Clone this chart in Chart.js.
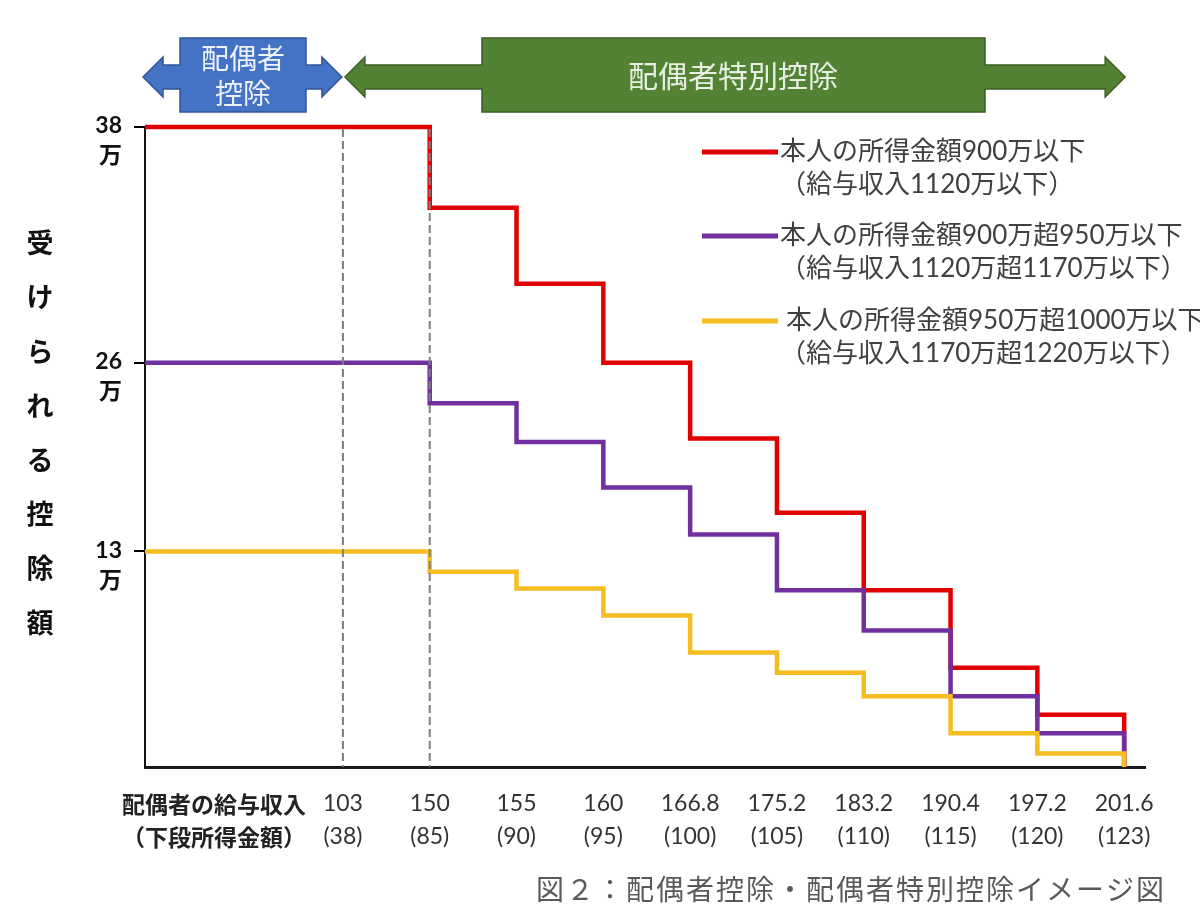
<!DOCTYPE html>
<html>
<head>
<meta charset="utf-8">
<title>配偶者控除・配偶者特別控除イメージ図</title>
<script src="https://cdn.jsdelivr.net/npm/chart.js"></script>
<style>
  body { margin: 0; background: #fff; }
  #wrap { width: 1200px; height: 914px; }
</style>
</head>
<body>
<div id="wrap"><canvas id="chart" width="1200" height="914"></canvas></div>
<script>
// 配偶者の給与収入（万円）と下段の所得金額
const incomes = ['103', '150', '155', '160', '166.8', '175.2', '183.2', '190.4', '197.2', '201.6'];
const incomesLower = ['38', '85', '90', '95', '100', '105', '110', '115', '120', '123'];

// 各区間（その収入から次の収入まで）の控除額、絵から読んだ値（万円）
const red    = [38, 33.2, 28.7, 24.0, 19.5, 15.1, 10.5, 5.9, 3.1, 0];
const purple = [24.0, 21.6, 19.3, 16.6, 13.8, 10.5, 8.1, 4.2, 2.0, 0];
const yellow = [12.8, 11.6, 10.6, 9.0, 6.8, 5.6, 4.2, 2.0, 0.8, 0];

const seriesNames = ['本人の所得金額900万以下', '本人の所得金額900万超950万以下', '本人の所得金額950万超1000万以下'];
const seriesNotes = ['（給与収入1120万以下）', '（給与収入1120万超1170万以下）', '（給与収入1170万超1220万以下）'];

// y軸の目盛り（絵の位置）とその表示
const yTicks = [38, 24.0, 12.8];
const yTickText = ['38', '26', '13'];

const yTitle = '受けられる控除額';
const xTitle = ['配偶者の給与収入', '（下段所得金額）'];
const caption = '図２：配偶者控除・配偶者特別控除イメージ図';

const XMIN = -2.28, XMAX = 9.24;
const CJK = '"Noto Sans CJK JP"';
const MIX = 'Lato, "Noto Sans CJK JP"';

function toPoints(s) {
  return [{ x: XMIN, y: s[0] }].concat(s.map((v, i) => ({ x: i, y: v })));
}

function polygon(ctx, pts, fill, stroke) {
  ctx.beginPath();
  ctx.moveTo(pts[0][0], pts[0][1]);
  for (let i = 1; i < pts.length; i++) ctx.lineTo(pts[i][0], pts[i][1]);
  ctx.closePath();
  ctx.fillStyle = fill;
  ctx.fill();
  ctx.lineWidth = 1.5;
  ctx.strokeStyle = stroke;
  ctx.stroke();
}

// 両矢印（左右の頭・軸・箱）
function arrowShape(tipL, tipR, boxL, boxR) {
  const cy = 77, hT = 57, hB = 97, sT = 65, sB = 89, bT = 38, bB = 112;
  return [
    [tipL, cy], [tipL + 20, hT], [tipL + 20, sT],
    [boxL, sT], [boxL, bT], [boxR, bT], [boxR, sT],
    [tipR - 20, sT], [tipR - 20, hT], [tipR, cy], [tipR - 20, hB], [tipR - 20, sB],
    [boxR, sB], [boxR, bB], [boxL, bB], [boxL, sB], [tipL + 20, sB], [tipL + 20, hB]
  ];
}

const decor = {
  id: 'decor',
  afterDatasetsDraw(chart) {
    const { ctx, chartArea, scales: { x, y } } = chart;
    ctx.save();
    ctx.strokeStyle = '#7f7f7f';
    ctx.lineWidth = 2;
    ctx.setLineDash([8, 4]);
    [0, 1].forEach(i => {
      const px = x.getPixelForValue(i);
      ctx.beginPath();
      ctx.moveTo(px, y.getPixelForValue(red[0]) + 2);
      ctx.lineTo(px, chartArea.bottom);
      ctx.stroke();
    });
    ctx.restore();
  },
  afterDraw(chart) {
    const { ctx, chartArea, scales: { x } } = chart;
    ctx.save();

    // 上部の矢印
    const p0 = x.getPixelForValue(0);
    const pN = x.getPixelForValue(incomes.length - 1);
    polygon(ctx, arrowShape(chartArea.left - 2, p0 - 1, 180, 306), '#4472c4', '#2f5597');
    polygon(ctx, arrowShape(p0 + 2, pN + 1, 482, 985), '#548235', '#3b5e24');

    ctx.textAlign = 'center';
    ctx.textBaseline = 'middle';
    ctx.fillStyle = '#eef2fa';
    ctx.font = '28px ' + CJK;
    ctx.fillText('配偶者', 243, 58);
    ctx.fillText('控除', 243, 93);
    ctx.fillStyle = '#e8efe2';
    ctx.font = '30px ' + CJK;
    ctx.fillText('配偶者特別控除', 733, 76);

    // y軸タイトル（縦書き）
    ctx.fillStyle = '#111';
    ctx.font = 'bold 27px ' + CJK;
    [...yTitle].forEach((c, i) => ctx.fillText(c, 40, 243 + i * 54.2));

    // x軸タイトル
    ctx.fillStyle = '#222';
    ctx.font = 'bold 23px ' + CJK;
    ctx.fillText(xTitle[0], 214, 804);
    ctx.fillText(xTitle[1], 214, 837);

    // 凡例
    const ly = [152, 236, 321];
    chart.data.datasets.slice().sort((a, b) => a.legendRank - b.legendRank).forEach((ds, i) => {
      ctx.strokeStyle = ds.borderColor;
      ctx.lineWidth = 5;
      ctx.beginPath();
      ctx.moveTo(702, ly[i]);
      ctx.lineTo(778, ly[i]);
      ctx.stroke();
      ctx.fillStyle = '#404040';
      ctx.textAlign = 'left';
      ctx.font = '26px ' + MIX;
      ctx.fillText(ds.label, 780 + (i === 2 ? 6 : 0), ly[i]);
      ctx.fillText(seriesNotes[ds.legendRank], 780, ly[i] + 33);
    });

    // 図の見出し
    ctx.fillStyle = '#595959';
    ctx.textAlign = 'center';
    ctx.font = '28px ' + CJK;
    ctx.letterSpacing = '2px';
    ctx.fillText(caption, 851, 889);
    ctx.restore();
  }
};

const lineStyle = { borderWidth: 4.5, pointRadius: 0, stepped: true, clip: false, fill: false };

new Chart(document.getElementById('chart'), {
  type: 'line',
  data: {
    datasets: [
      Object.assign({ label: seriesNames[0], data: toPoints(red), borderColor: '#e00000', order: 2, legendRank: 0 }, lineStyle),
      Object.assign({ label: seriesNames[1], data: toPoints(purple), borderColor: '#7030a0', order: 1, legendRank: 1 }, lineStyle),
      Object.assign({ label: seriesNames[2], data: toPoints(yellow), borderColor: '#f5bd1f', order: 0, legendRank: 2 }, lineStyle)
    ]
  },
  options: {
    responsive: false,
    animation: false,
    layout: { padding: { top: 127, right: 55, bottom: 0, left: 0 } },
    plugins: { legend: { display: false }, tooltip: { enabled: false } },
    scales: {
      x: {
        type: 'linear',
        min: XMIN,
        max: XMAX,
        afterBuildTicks: s => { s.ticks = incomes.map((c, i) => ({ value: i })); },
        afterFit: s => { s.height = 147; },
        grid: { display: false },
        border: { display: true, color: '#1a1a1a', width: 3 },
        ticks: {
          autoSkip: false,
          maxRotation: 0,
          padding: 12,
          color: '#333',
          font: { family: MIX, size: 23, lineHeight: 1.45 },
          callback: v => [incomes[v], '(' + incomesLower[v] + ')']
        }
      },
      y: {
        min: 0,
        max: 38,
        afterBuildTicks: s => { s.ticks = yTicks.map(v => ({ value: v })); },
        afterFit: s => { s.width = 145; },
        grid: { drawOnChartArea: false, drawTicks: true, tickLength: 11, color: '#000', lineWidth: 2 },
        border: { display: true, color: '#111', width: 2 },
        ticks: {
          padding: 12,
          labelOffset: 14,
          color: '#111',
          font: { family: MIX, size: 23, weight: 'bold', lineHeight: 1.3 },
          callback: v => [yTickText[yTicks.indexOf(v)], '万']
        }
      }
    }
  },
  plugins: [decor]
});
</script>
</body>
</html>
